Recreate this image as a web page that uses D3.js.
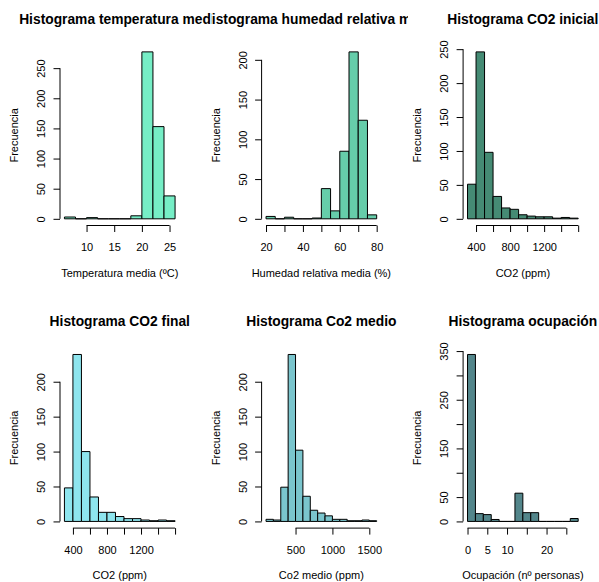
<!DOCTYPE html>
<html><head><meta charset="utf-8">
<script src="https://cdn.jsdelivr.net/npm/d3@7/dist/d3.min.js"></script>
<style>
html,body{margin:0;padding:0;background:#fff;}
svg{display:block;font-family:"Liberation Sans",Arial,Helvetica,sans-serif;}
</style></head><body>
<svg id="chart" width="599" height="582"></svg>
<script>
// ---- data ----
const tempBins = [6,8,10,12,14,16,18,20,22,24,26];
const tempCounts = [3,0,2,0,0,0,5,277,153,38];
const humBins = [20,25,30,35,40,45,50,55,60,65,70,75,80];
const humCounts = [3,0,2,0,0,1,38,10,85,210,124,5];
const co2Bins = [300,400,500,600,700,800,900,1000,1100,1200,1300,1400,1500,1600];
const co2IniCounts = [51,246,98,33,16,14,6,4,3,3,1,2,1];
const co2FinCounts = [48,239,100,35,13,13,7,4,4,2,1,2,1];
const co2MedBins = [100,200,300,400,500,600,700,800,900,1000,1100,1200,1300,1400,1500,1600];
const co2MedCounts = [3,2,49,239,102,36,16,12,8,3,3,1,1,2,1];
const ocupBins = [0,2,4,6,8,10,12,14,16,18,20,22,24,26,28];
const ocupCounts = [343,16,14,4,0,0,58,18,18,0,0,0,0,6];

const tempXTicks = [10,15,20,25];          const tempXLabels = [10,15,20,25];
const humXTicks = [20,30,40,50,60,70,80];  const humXLabels = [20,40,60,80];
const co2XTicks = [400,600,800,1000,1200,1400,1600]; const co2XLabels = [400,800,1200];
const co2MedXTicks = [500,1000,1500];      const co2MedXLabels = [500,1000,1500];
const ocupXTicks = [0,5,10,15,20,25];      const ocupXLabels = [0,5,10,20];
const yTicks250 = [0,50,100,150,200,250];
const yTicks200 = [0,50,100,150,200];
const yTicks350 = [0,50,100,150,200,250,300,350];
const ocupYLabels = [0,50,150,250,350];

const titles = ["Histograma temperatura media","Histograma humedad relativa media","Histograma CO2 inicial",
                "Histograma CO2 final","Histograma Co2 medio","Histograma ocupación"];
const xLabels = ["Temperatura media (ºC)","Humedad relativa media (%)","CO2 (ppm)",
                 "CO2 (ppm)","Co2 medio (ppm)","Ocupación (nº personas)"];
const colors = ["#76EEC6","#66CDAA","#458B74","#8EE5EE","#7AC5CD","#53868B"];

const panels = [
  {bins:tempBins, counts:tempCounts, xt:tempXTicks, xl:tempXLabels, yt:yTicks250, yl:yTicks250},
  {bins:humBins, counts:humCounts, xt:humXTicks, xl:humXLabels, yt:yTicks200, yl:yTicks200},
  {bins:co2Bins, counts:co2IniCounts, xt:co2XTicks, xl:co2XLabels, yt:yTicks250, yl:yTicks250},
  {bins:co2Bins, counts:co2FinCounts, xt:co2XTicks, xl:co2XLabels, yt:yTicks200, yl:yTicks200},
  {bins:co2MedBins, counts:co2MedCounts, xt:co2MedXTicks, xl:co2MedXLabels, yt:yTicks200, yl:yTicks200},
  {bins:ocupBins, counts:ocupCounts, xt:ocupXTicks, xl:ocupXLabels, yt:yTicks350, yl:ocupYLabels}
];

// ---- layout ----
const svg = d3.select("#chart");
const colX = [60, 261.6, 463.1];
const rowY = [45.2, 347.8];
const pw = 119.5, ph = 180.3;
const FS = 11, TFS = 13.8;
// title clip regions (figure regions), [left, right], and small title nudges
const titleClip = [[0,211.2],[211.3,408],[408,599],[0,199.7],[199.7,399.3],[399.3,599]];
const titleShift = [1,-1,0,0,0,0];

const defs = svg.append("defs");

panels.forEach((p, i) => {
  const c = i % 3, r = Math.floor(i / 3);
  const x0 = colX[c], y0 = rowY[r];
  const lo = p.bins[0], hi = p.bins[p.bins.length - 1];
  const ext = (hi - lo) * 0.04;
  const ymax = d3.max(p.counts);
  const x = d3.scaleLinear().domain([lo - ext, hi + ext]).range([x0, x0 + pw]);
  const y = d3.scaleLinear().domain([-ymax * 0.04, ymax * 1.04]).range([y0 + ph, y0]);

  const g = svg.append("g");
  const bars = p.counts.map((v, k) => ({a: p.bins[k], b: p.bins[k + 1], v}));
  g.selectAll("path.bar").data(bars).enter().append("path")
    .attr("d", d => {
      const pa = d3.path();
      pa.rect(x(d.a), y(d.v), x(d.b) - x(d.a), y(0) - y(d.v));
      return pa.toString();
    })
    .attr("fill", colors[i]).attr("stroke", "#000").attr("stroke-width", 1);

  const xa = g.append("g").attr("transform", `translate(0,${y0 + ph})`)
    .call(d3.axisBottom(x).tickValues(p.xt).tickSize(6.5)
      .tickFormat(v => p.xl.includes(v) ? String(v) : ""));
  xa.select(".domain").remove();
  xa.append("line").attr("x1", x(p.xt[0])).attr("x2", x(p.xt[p.xt.length - 1]))
    .attr("y1", 0).attr("y2", 0).attr("stroke", "#000");
  xa.selectAll(".tick line").attr("stroke", "#000");
  xa.selectAll("text").attr("y", 25.5).attr("dy", 0).attr("fill", "#000")
    .style("font-size", FS + "px").style("font-family", "inherit");

  const ya = g.append("g").attr("transform", `translate(${x0},0)`)
    .call(d3.axisLeft(y).tickValues(p.yt).tickSize(6.5)
      .tickFormat(v => p.yl.includes(v) ? String(v) : ""));
  ya.select(".domain").remove();
  ya.append("line").attr("y1", y(p.yt[0])).attr("y2", y(p.yt[p.yt.length - 1]))
    .attr("x1", 0).attr("x2", 0).attr("stroke", "#000");
  ya.selectAll(".tick line").attr("stroke", "#000");
  ya.selectAll("text").attr("x", 0).attr("y", 0).attr("dy", 0)
    .attr("transform", "translate(-15,0) rotate(-90)").attr("text-anchor", "middle")
    .attr("fill", "#000").style("font-size", FS + "px").style("font-family", "inherit");

  g.append("text").attr("x", x0 + pw / 2).attr("y", y0 + ph + 51)
    .attr("text-anchor", "middle").style("font-size", FS + "px").text(xLabels[i]);
  g.append("text").attr("transform", `translate(${x0 - 41.7},${y0 + ph / 2}) rotate(-90)`)
    .attr("text-anchor", "middle").style("font-size", FS + "px").text("Frecuencia");

  const cid = "clip" + i;
  const [cl, cr] = titleClip[i];
  defs.append("clipPath").attr("id", cid).append("rect")
    .attr("x", cl).attr("y", r * 291).attr("width", cr - cl).attr("height", 291);
  g.append("text").attr("clip-path", `url(#${cid})`)
    .attr("x", x0 + pw / 2 + titleShift[i]).attr("y", y0 - 21.5)
    .attr("text-anchor", "middle").style("font-size", TFS + "px").style("font-weight", "bold")
    .text(titles[i]);
});
</script>
</body></html>
